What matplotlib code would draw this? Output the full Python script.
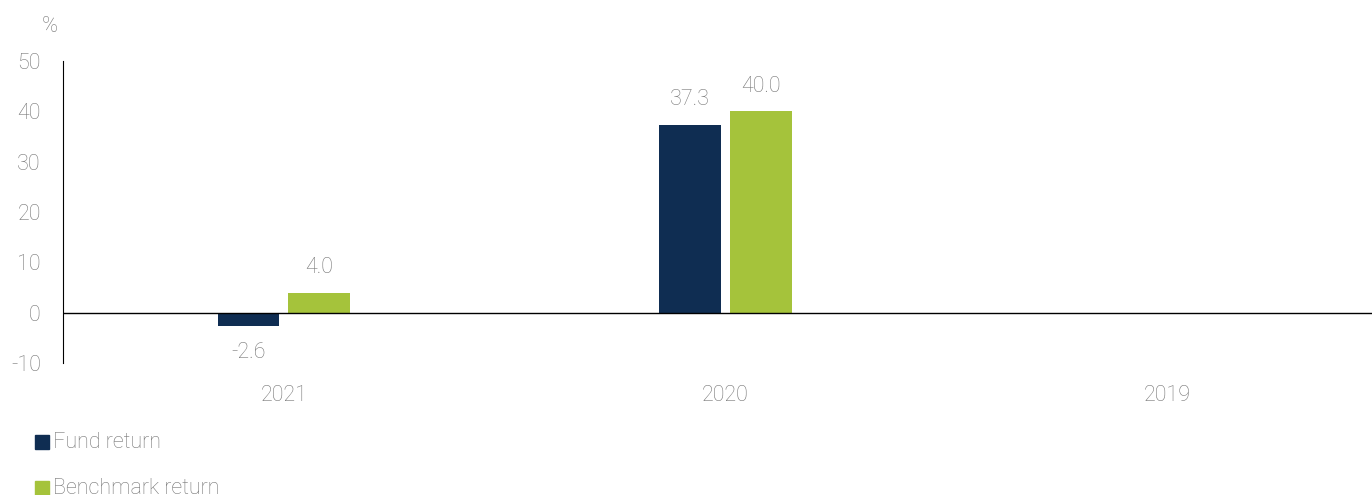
import matplotlib.pyplot as plt
from matplotlib.patches import Rectangle

years = ["2021", "2020", "2019"]
fund_return = [-2.6, 37.3, None]
benchmark_return = [4.0, 40.0, None]
y_ticks = [-10, 0, 10, 20, 30, 40, 50]

navy = "#0f2d52"
green = "#a5c33b"
grey = "#767676"

plt.rcParams["font.family"] = ["Roboto", "DejaVu Sans"]
plt.rcParams["font.weight"] = "light"
plt.rcParams["axes.unicode_minus"] = False

fig = plt.figure(figsize=(13.72, 4.95), dpi=100)
ax = fig.add_axes([63 / 1372, 1 - 363 / 495, 1325 / 1372, 302 / 495])

width = 0.139
offset = 0.080
for i, (f, b) in enumerate(zip(fund_return, benchmark_return)):
    for val, dx, c in [(f, -offset, navy), (b, offset, green)]:
        if val is None:
            continue
        ax.bar(i + dx, val, width, color=c)
        ax.annotate(f"{val:.1f}", (i + dx, val), xytext=(0, 18 if val >= 0 else -19),
                    textcoords="offset points", ha="center", va="center",
                    fontsize=15.5, color=grey)

ax.set_xlim(-0.5, 2.5)
ax.set_ylim(-10, 50)
ax.set_yticks(y_ticks)
ax.set_xticks(range(len(years)))
ax.set_xticklabels(years)
ax.tick_params(axis="both", length=0, labelsize=15.5, labelcolor=grey)
ax.tick_params(axis="y", pad=16)
ax.tick_params(axis="x", pad=16)
for s in ["top", "right", "bottom"]:
    ax.spines[s].set_visible(False)
ax.spines["left"].set_color("black")
ax.axhline(0, color="black", linewidth=1)

fig.text(50 / 1372, 1 - 27 / 495, "%", fontsize=15.5, color=grey, ha="center",
         va="center")

# legend below the chart
for y, label, c in [(442, "Fund return", navy), (488, "Benchmark return", green)]:
    fig.patches.append(Rectangle((35 / 1372, 1 - (y + 7) / 495), 14 / 1372, 14 / 495,
                                 transform=fig.transFigure, color=c))
    fig.text(53 / 1372, 1 - y / 495, label, fontsize=15.5, color=grey, va="center")

fig.savefig("out.png", dpi=100)
